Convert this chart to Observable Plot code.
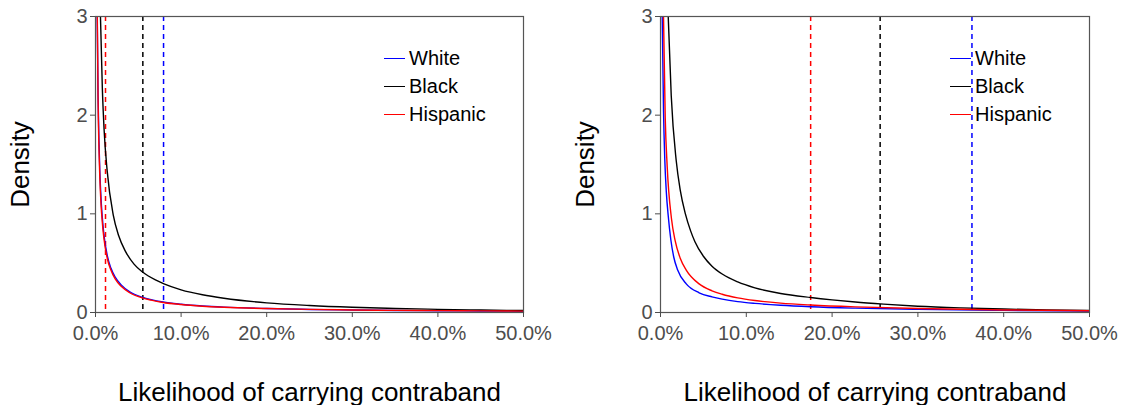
<!DOCTYPE html>
<html>
<head>
<meta charset="utf-8">
<script src="https://cdn.jsdelivr.net/npm/d3@7"></script>
<script src="https://cdn.jsdelivr.net/npm/@observablehq/plot@0.6"></script>
<style>
  html, body { margin: 0; padding: 0; background: #fff; }
  #wrap { display: flex; width: 1121px; height: 405px; font-family: "Liberation Sans", Arial, sans-serif; }
  .panel { position: relative; }
  .legend { position: absolute; font-size: 20px; color: #000; }
  .legend .row { display: flex; align-items: center; height: 28px; }
  .legend .sw { width: 21px; height: 0; border-top: 1.5px solid; margin-right: 4px; }
  g[aria-label="x-axis label"] text, g[aria-label="y-axis label"] text { fill: #000; font-size: 26px; }
</style>
</head>
<body>
<div id="wrap"></div>
<script>
// ---- data ----
const groups = ["White", "Black", "Hispanic"];
const groupColors = ["blue", "black", "red"];
const xTicks = [0, 0.1, 0.2, 0.3, 0.4, 0.5];
const yTicks = [0, 1, 2, 3];

// left panel: [likelihood, density]
const leftWhite = [[0.002,3.0],[0.003,2.2],[0.004,1.75],[0.005,1.45],[0.0065,1.15],[0.0078,0.98],[0.0097,0.8],[0.0137,0.58],[0.018,0.45],[0.023,0.36],[0.03,0.28],[0.04,0.21],[0.0546,0.155],[0.065,0.13],[0.079,0.106],[0.1,0.084],[0.125,0.066],[0.15,0.054],[0.2,0.04],[0.25,0.031],[0.3,0.025],[0.35,0.021],[0.4,0.018],[0.45,0.015],[0.5,0.013]];
const leftBlack = [[0.0058,3.0],[0.008,2.27],[0.01,1.86],[0.0137,1.43],[0.0207,0.99],[0.027,0.78],[0.035,0.62],[0.045,0.49],[0.055,0.41],[0.07,0.33],[0.08,0.29],[0.1,0.23],[0.125,0.18],[0.15,0.145],[0.2,0.098],[0.25,0.071],[0.3,0.053],[0.35,0.041],[0.4,0.032],[0.45,0.025],[0.5,0.02]];
const leftHispanic = [[0.0021,3.0],[0.003,2.15],[0.004,1.68],[0.005,1.38],[0.0065,1.09],[0.0078,0.93],[0.0097,0.76],[0.0137,0.55],[0.018,0.43],[0.023,0.34],[0.03,0.265],[0.04,0.2],[0.0546,0.148],[0.065,0.125],[0.079,0.102],[0.1,0.081],[0.125,0.064],[0.15,0.053],[0.2,0.04],[0.25,0.032],[0.3,0.026],[0.35,0.022],[0.4,0.019],[0.45,0.016],[0.5,0.014]];
const leftThresholds = [0.0795, 0.0553, 0.0117]; // White, Black, Hispanic

// right panel
const rightWhite = [[0.002,3.0],[0.0035,2.05],[0.005,1.55],[0.0068,1.22],[0.009,0.98],[0.012,0.74],[0.0155,0.56],[0.02,0.43],[0.03,0.29],[0.045,0.2],[0.06,0.158],[0.0719,0.135],[0.09,0.11],[0.11,0.092],[0.14,0.073],[0.175,0.058],[0.227,0.044],[0.3,0.032],[0.4,0.022],[0.5,0.015]];
const rightBlack = [[0.009,3.0],[0.0125,2.2],[0.0183,1.54],[0.023,1.24],[0.029,1.0],[0.035,0.83],[0.04,0.72],[0.05,0.57],[0.06,0.47],[0.0719,0.39],[0.09,0.31],[0.11,0.25],[0.14,0.193],[0.175,0.152],[0.2,0.128],[0.227,0.106],[0.26,0.085],[0.3,0.064],[0.35,0.047],[0.4,0.035],[0.45,0.026],[0.5,0.02]];
const rightHispanic = [[0.0035,3.0],[0.0055,1.98],[0.0078,1.48],[0.0128,0.95],[0.017,0.73],[0.023,0.55],[0.03,0.43],[0.045,0.29],[0.06,0.22],[0.0719,0.185],[0.09,0.148],[0.11,0.121],[0.14,0.095],[0.175,0.076],[0.227,0.057],[0.3,0.04],[0.4,0.026],[0.5,0.018]];
const rightThresholds = [0.363, 0.256, 0.175];

const xTitle = "Likelihood of carrying contraband";
const yTitle = "Density";

function toRows(seriesList) {
  const rows = [];
  seriesList.forEach((s, i) => s.forEach(([x, y]) => rows.push({group: groups[i], x, y})));
  return rows;
}

function panel(series, thresholds, opts) {
  const rows = toRows(series);
  const rules = thresholds.map((x, i) => ({group: groups[i], x}));
  const plot = Plot.plot({
    width: opts.width, height: 405,
    marginLeft: opts.ml, marginRight: opts.mr, marginTop: 16, marginBottom: 93,
    style: {fontFamily: "'Liberation Sans', Arial, sans-serif", fontSize: "20px", background: "#fff"},
    x: {domain: [0, 0.5]},
    y: {domain: [0, 3]},
    color: {domain: groups, range: groupColors},
    marks: [
      Plot.ruleX(rules, {x: "x", stroke: "group", strokeWidth: 1.5, strokeDasharray: "5,4"}),
      Plot.line(rows, {x: "x", y: "y", z: "group", stroke: "group", strokeWidth: 1.4, curve: "monotone-x", clip: true}),
      Plot.frame({stroke: "#555", strokeWidth: 1.2}),
      Plot.axisX({ticks: xTicks, tickFormat: d3.format(".1%"), tickSize: 5, tickPadding: 8, color: "#4d4d4d", fontSize: 20,
                  label: xTitle, labelAnchor: "center", labelArrow: "none", labelOffset: 88}),
      Plot.axisY({ticks: yTicks, tickFormat: d3.format("d"), tickSize: 5, tickPadding: 3, color: "#4d4d4d", fontSize: 20,
                  label: yTitle, labelAnchor: "center", labelArrow: "none", labelOffset: 85})
    ]
  });
  const div = document.createElement("div");
  div.className = "panel";
  div.style.width = opts.width + "px";
  div.appendChild(plot);
  const leg = document.createElement("div");
  leg.className = "legend";
  leg.style.left = opts.legX + "px";
  leg.style.top = "44px";
  groups.forEach((g, i) => {
    const r = document.createElement("div");
    r.className = "row";
    const sw = document.createElement("span");
    sw.className = "sw";
    sw.style.borderTopColor = groupColors[i];
    const t = document.createElement("span");
    t.textContent = g;
    r.appendChild(sw); r.appendChild(t);
    leg.appendChild(r);
  });
  div.appendChild(leg);
  return div;
}

const wrap = document.getElementById("wrap");
wrap.appendChild(panel([leftWhite, leftBlack, leftHispanic], leftThresholds, {width: 560, ml: 95, mr: 37, legX: 384}));
wrap.appendChild(panel([rightWhite, rightBlack, rightHispanic], rightThresholds, {width: 561, ml: 100, mr: 32, legX: 390}));
</script>
</body>
</html>
